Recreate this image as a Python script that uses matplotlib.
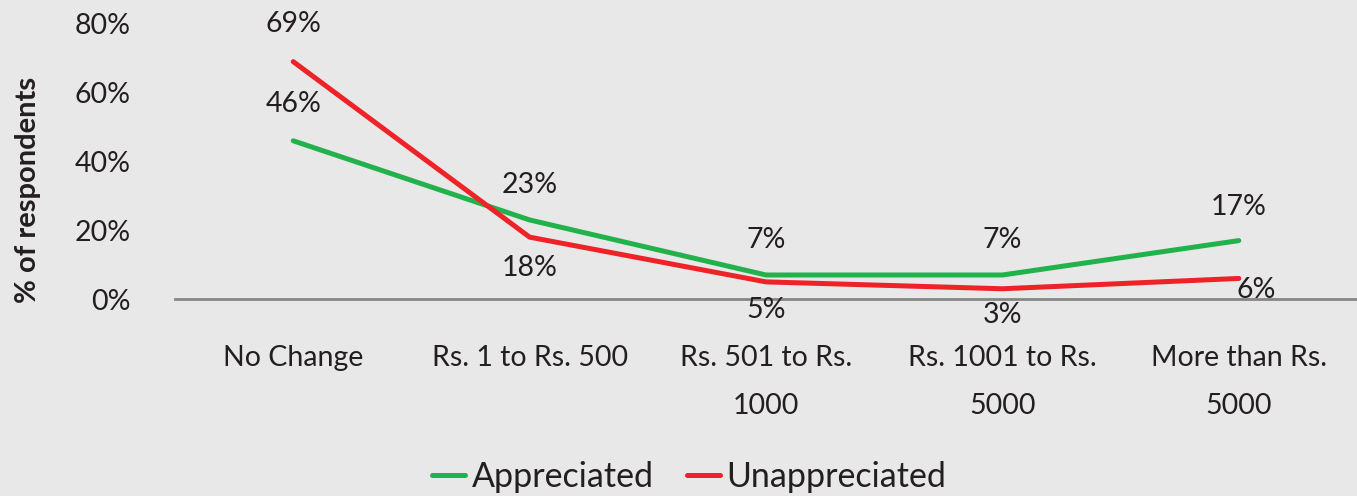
import numpy as np
import matplotlib
matplotlib.use("Agg")
import matplotlib.pyplot as plt

plt.rcParams['font.family'] = ['Lato', 'DejaVu Sans']

categories = ["No Change", "Rs. 1 to Rs. 500", "Rs. 501 to Rs.\n1000",
              "Rs. 1001 to Rs.\n5000", "More than Rs.\n5000"]
appreciated = [46, 23, 7, 7, 17]
unappreciated = [69, 18, 5, 3, 6]

# label offsets in pixels (dx, dy)
app_offsets = [(0, 37), (0, 35), (0, 35), (0, 35), (0, 34)]
unapp_offsets = [(0, 38), (0, -31), (0, -28), (0, -26), (17, -12)]

bg = '#e8e8e8'
txt = '#231f20'
fs = 20.5
fig = plt.figure(figsize=(13.57, 4.96), dpi=100, facecolor=bg)
ax = fig.add_axes([0.129, 0.397, 0.871, 0.555])
ax.set_facecolor(bg)

x = np.arange(len(categories))
green = '#22b24c'
red = '#ee2227'
ax.plot(x, appreciated, color=green, lw=3.6, label='Appreciated', solid_capstyle='round')
ax.plot(x, unappreciated, color=red, lw=3.6, label='Unappreciated', solid_capstyle='round')

for i in x:
    ax.annotate(f"{appreciated[i]}%", (i, appreciated[i]), xytext=app_offsets[i],
                textcoords='offset pixels', ha='center', va='center', fontsize=fs,
                color=txt, annotation_clip=False)
    ax.annotate(f"{unappreciated[i]}%", (i, unappreciated[i]), xytext=unapp_offsets[i],
                textcoords='offset pixels', ha='center', va='center', fontsize=fs,
                color=txt, annotation_clip=False)

ax.set_xlim(-0.5, 4.5)
ax.set_ylim(0, 80)
ax.set_yticks([0, 20, 40, 60, 80])
ax.set_yticklabels([f"{v}%" for v in [0, 20, 40, 60, 80]], fontsize=fs, color=txt)
ax.set_xticks(x)
ax.set_xticklabels(categories, fontsize=fs, color=txt, linespacing=2.05, va='top')
ax.tick_params(axis='both', length=0)
ax.tick_params(axis='x', pad=33)
ax.tick_params(axis='y', pad=32)
for s in ['top', 'right', 'left']:
    ax.spines[s].set_visible(False)
ax.spines['bottom'].set_color('#868686')
ax.spines['bottom'].set_linewidth(2)

ax.set_ylabel('% of respondents', fontsize=21, fontweight='bold', color=txt)
ax.yaxis.set_label_coords(-0.113, 0.395)

fig.legend(loc='center', bbox_to_anchor=(0.508, 0.038), ncol=2, frameon=False,
           fontsize=24.5, handlelength=0.95, handletextpad=0.2, columnspacing=1.0,
           labelcolor=txt)

fig.savefig('out.png', dpi=100, facecolor=bg)
